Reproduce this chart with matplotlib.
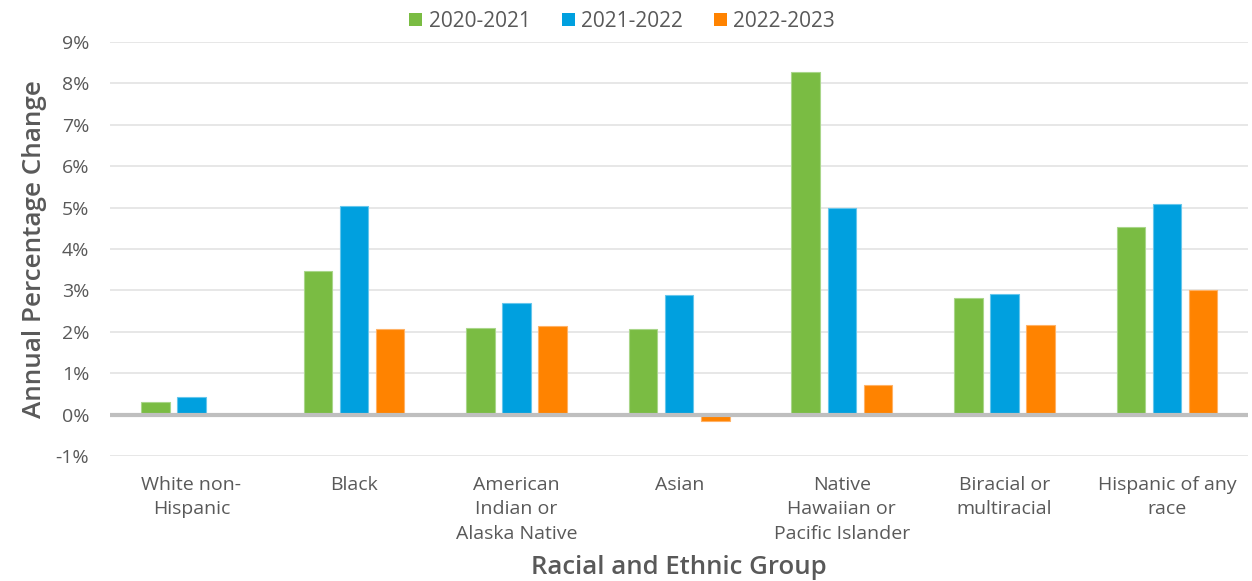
import matplotlib
matplotlib.use("Agg")
import matplotlib.pyplot as plt
import numpy as np
from matplotlib.ticker import FuncFormatter

groups = [
    "White non-\nHispanic",
    "Black",
    "American\nIndian or\nAlaska Native",
    "Asian",
    "Native\nHawaiian or\nPacific Islander",
    "Biracial or\nmultiracial",
    "Hispanic of any\nrace",
]
periods = ["2020-2021", "2021-2022", "2022-2023"]
change_2020_2021 = [0.31, 3.46, 2.09, 2.06, 8.27, 2.82, 4.53]
change_2021_2022 = [0.43, 5.03, 2.69, 2.88, 4.99, 2.92, 5.08]
change_2022_2023 = [0.00, 2.06, 2.13, -0.15, 0.71, 2.16, 3.00]

colors = ["#7ABC43", "#00A0DF", "#FF8300"]
edge_colors = ["#A9D68A", "#66C6EC", "#FFB266"]
text_color = "#595959"

plt.rcParams["font.family"] = ["Open Sans", "DejaVu Sans"]

fig = plt.figure(figsize=(12.52, 5.81), dpi=100)
ax = fig.add_axes([0.088, 0.215, 0.909, 0.713])

x = np.arange(len(groups))
step = 0.222
width = 0.175
series = [change_2020_2021, change_2021_2022, change_2022_2023]
for i, (vals, label) in enumerate(zip(series, periods)):
    ax.bar(x + (i - 1) * step, vals, width=width, color=colors[i],
           edgecolor=edge_colors[i], linewidth=0.8, label=label, zorder=3)

ax.set_xlim(-0.5, len(groups) - 0.5)
ax.set_ylim(-1, 9)
ax.set_yticks(np.arange(-1, 10, 1))
ax.yaxis.set_major_formatter(FuncFormatter(lambda v, p: f"{v:.0f}%"))
ax.grid(axis="y", color="#E3E3E3", linewidth=1.2, zorder=0)
ax.axhline(0, color="#BFBFBF", linewidth=3, zorder=4)

for s in ax.spines.values():
    s.set_visible(False)
ax.tick_params(axis="both", length=0, colors=text_color, labelsize=14)
ax.tick_params(axis="y", pad=15)
ax.tick_params(axis="x", pad=14)
ax.set_xticks(x)
ax.set_xticklabels(groups, linespacing=1.48)

ax.set_ylabel("Annual Percentage Change", fontsize=18.8, fontweight="semibold",
              color=text_color, labelpad=6)
ax.set_xlabel("Racial and Ethnic Group", fontsize=18.5, fontweight="semibold",
              color=text_color, labelpad=9)

leg = fig.legend(loc="upper center", bbox_to_anchor=(0.497, 1.014), ncol=3,
                 frameon=False, fontsize=15, handlelength=0.62,
                 handleheight=0.62, handletextpad=0.3, columnspacing=1.5)
for t in leg.get_texts():
    t.set_color(text_color)
for h in leg.legend_handles:
    h.set_edgecolor("none")

fig.savefig("out.png", dpi=100, facecolor="white")
